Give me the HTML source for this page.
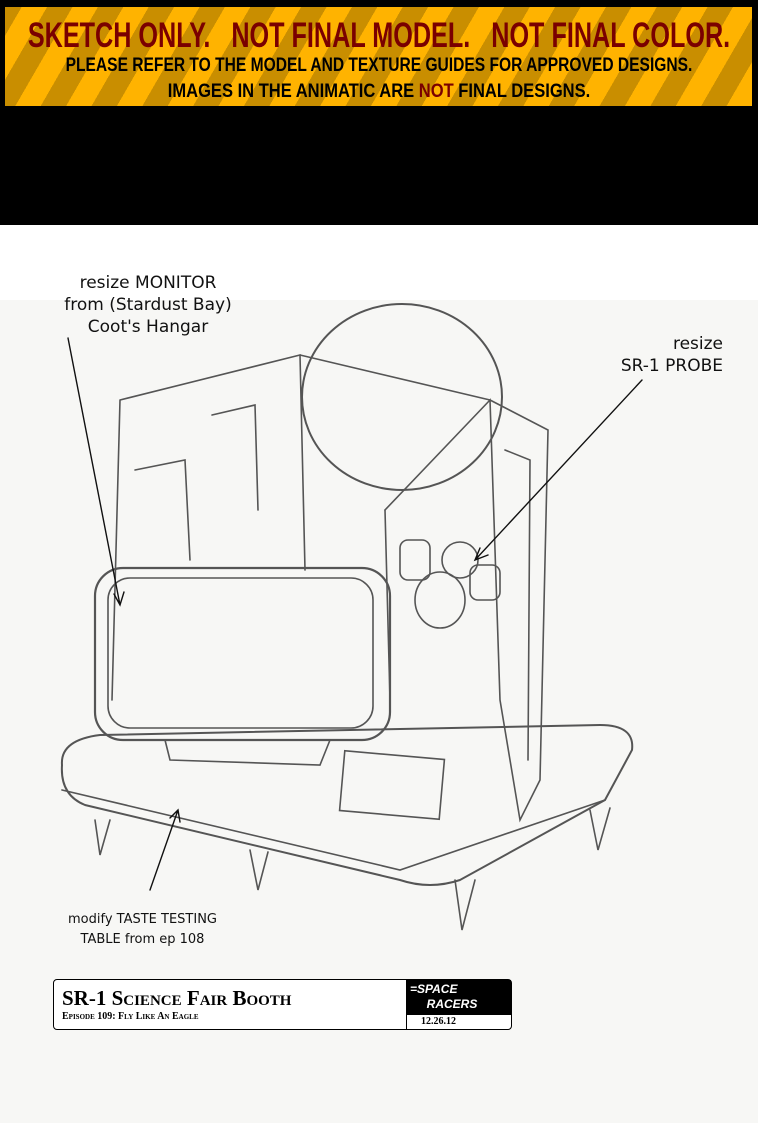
<!DOCTYPE html>
<html><head><meta charset="utf-8"><style>
body{margin:0;width:758px;height:1123px;overflow:hidden;background:#fff;position:relative;font-family:"Liberation Sans",sans-serif}
#top{position:absolute;left:0;top:0;width:758px;height:225px;background:#000}
#ban{position:absolute;left:5px;top:7px;width:747px;height:99px;background:repeating-linear-gradient(-60deg,#ffb300 0 22px,#c98e00 22px 44px);overflow:hidden}
.ln{position:absolute;left:50%;white-space:nowrap;font-weight:bold}
#l1{top:11px;color:#7a0000;font-size:35px;line-height:36px;transform:translateX(-50%) scaleX(0.72)}
#l2{top:49px;color:#000;font-size:19px;line-height:20px;transform:translateX(-50%) scaleX(0.82)}
#l3{top:75px;color:#000;font-size:19px;line-height:20px;transform:translateX(-50%) scaleX(0.87)}
#paper{position:absolute;left:0;top:300px;width:758px;height:823px;background:#f7f7f5}
.hand{position:absolute;font-family:"DejaVu Sans",sans-serif;color:#111}
#tb{position:absolute;left:53px;top:979px;width:457px;height:49px;border:1.5px solid #000;border-radius:4px;background:#fff;font-family:"Liberation Serif",serif}
</style></head><body>
<div id="top"><div id="ban">
<div class="ln" id="l1">SKETCH ONLY.&nbsp;&nbsp; NOT FINAL MODEL.&nbsp;&nbsp; NOT FINAL COLOR.</div>
<div class="ln" id="l2">PLEASE REFER TO THE MODEL AND TEXTURE GUIDES FOR APPROVED DESIGNS.</div>
<div class="ln" id="l3">IMAGES IN THE ANIMATIC ARE <span style="color:#7a0000">NOT</span> FINAL DESIGNS.</div>
</div></div>
<div id="paper"></div>
<svg style="position:absolute;left:0;top:0" width="758" height="1123" fill="none" stroke="#555" stroke-width="1.6" stroke-linecap="round">
<path d="M120 400 L300 355 L305 570 M120 400 L112 700 M300 355 L490 400 M385 510 L490 400 L500 700 M490 400 L548 430 L540 780 L520 820 L500 700"/>
<path d="M135 470 L185 460 L190 560 M212 415 L255 405 L258 510 M385 510 L390 700 M505 450 L530 460 L528 760"/>
<ellipse cx="402" cy="397" rx="100" ry="93" stroke-width="2"/>
<rect x="95" y="568" width="295" height="172" rx="28" stroke-width="2.2"/>
<rect x="108" y="578" width="265" height="150" rx="22"/>
<path d="M165 740 L170 760 L320 765 L330 740"/>
<path d="M62 765 Q60 740 100 735 L600 725 Q635 725 632 750 L605 800 L460 880 Q430 890 400 880 L85 805 Q60 795 62 765 Z" stroke-width="2"/>
<path d="M62 790 L400 870 L605 800"/>
<rect x="342" y="755" width="100" height="60" transform="rotate(5 392 785)"/>
<path d="M95 820 L100 855 L110 820 M250 850 L258 890 L268 852 M455 880 L462 930 L475 880 M590 810 L598 850 L610 808"/>
<circle cx="460" cy="560" r="18"/><ellipse cx="440" cy="600" rx="25" ry="28"/>
<rect x="400" y="540" width="30" height="40" rx="8"/><rect x="470" y="565" width="30" height="35" rx="8"/>
<g stroke="#111" stroke-width="1.4">
<path d="M68 338 L120 605 M114 594 L120 605 L124 592"/>
<path d="M642 380 L475 560 M480 548 L475 560 L488 555"/>
<path d="M150 890 L178 810 M170 818 L178 810 L180 822"/>
</g>
</svg>
<div class="hand" style="left:48px;top:272px;font-size:17px;line-height:22px;text-align:center;width:200px">resize MONITOR<br>from (Stardust Bay)<br>Coot's Hangar</div>
<div class="hand" style="left:585px;top:333px;font-size:17px;line-height:22px;text-align:right;width:138px">resize<br>SR-1 PROBE</div>
<div class="hand" style="left:45px;top:910px;font-size:13px;line-height:20px;text-align:center;width:195px">modify TASTE TESTING<br>TABLE from ep 108</div>
<div id="tb">
<div style="position:absolute;left:8px;top:6px;font-size:21px;font-weight:bold;font-variant:small-caps">SR-1 Science Fair Booth</div>
<div style="position:absolute;left:8px;top:31px;font-size:10px;font-weight:bold;font-variant:small-caps">Episode 109: Fly Like An Eagle</div>
<div style="position:absolute;left:352px;top:0;width:105px;height:35px;background:#000;color:#fff;font-style:italic;font-weight:bold;font-size:12px;line-height:15px;font-family:'Liberation Sans',sans-serif;padding:2px 4px;box-sizing:border-box">=SPACE<br>&nbsp;&nbsp;&nbsp;&nbsp;&nbsp;RACERS</div>
<div style="position:absolute;left:352px;top:35px;width:105px;height:14px;border-left:1px solid #000;font-size:10px;font-weight:bold;padding-left:14px;box-sizing:border-box;line-height:14px">12.26.12</div>
</div>
</body></html>
